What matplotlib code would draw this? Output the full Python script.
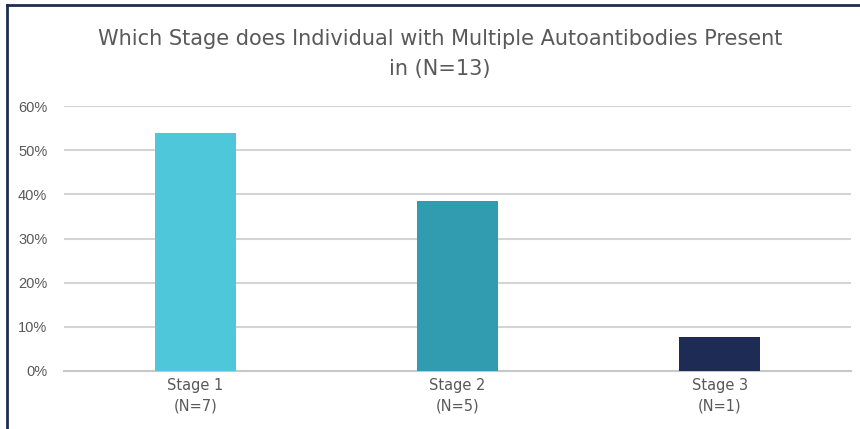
import matplotlib.pyplot as plt
from matplotlib.lines import Line2D
from matplotlib.ticker import PercentFormatter

stages = ["Stage 1\n(N=7)", "Stage 2\n(N=5)", "Stage 3\n(N=1)"]
shares = [0.538, 0.385, 0.077]
colors = ["#4EC7DB", "#319BB0", "#1D2B55"]

narrow = ["Liberation Sans Narrow", "DejaVu Sans"]

W, H = 860, 429
fig = plt.figure(figsize=(W / 100, H / 100), dpi=100)
ax = fig.add_axes([64 / W, 1 - 371 / H, (851 - 64) / W, (371 - 106) / H])

ax.bar(range(len(stages)), shares, width=0.31, color=colors, zorder=3)
ax.set_xlim(-0.5, len(stages) - 0.5)
ax.set_ylim(0, 0.6)
ax.set_yticks([0, 0.1, 0.2, 0.3, 0.4, 0.5, 0.6])
ax.yaxis.set_major_formatter(PercentFormatter(1.0, decimals=0))
ax.grid(axis="y", color="#D4D4D4", linewidth=1.5, zorder=0)
for s in ["left", "right", "top"]:
    ax.spines[s].set_visible(False)
ax.spines["bottom"].set_color("#C8C8C8")
ax.spines["bottom"].set_linewidth(1.5)
ax.tick_params(axis="both", length=0)
ax.tick_params(axis="y", labelsize=10.5, labelcolor="#595959", pad=12)
ax.set_yticklabels(ax.get_yticklabels(), family="Liberation Sans")
ax.set_xticks(range(len(stages)))
ax.set_xticklabels(stages, family=narrow, fontsize=10.5, color="#595959",
                   linespacing=1.45)
ax.tick_params(axis="x", pad=5)

fig.text(440 / W, 1 - 54 / H,
         "Which Stage does Individual with Multiple Autoantibodies Present\nin (N=13)",
         ha="center", va="center", fontsize=15, color="#595959", linespacing=1.65,
         family=narrow)

# frame edges of the original crop
fig.add_artist(Line2D([7 / W, 859 / W], [1 - 5 / H, 1 - 5 / H], color="#1F2D50", lw=2))
fig.add_artist(Line2D([7 / W, 7 / W], [0, 1 - 5 / H], color="#1F2D50", lw=2))

plt.savefig("out.png", dpi=100)
